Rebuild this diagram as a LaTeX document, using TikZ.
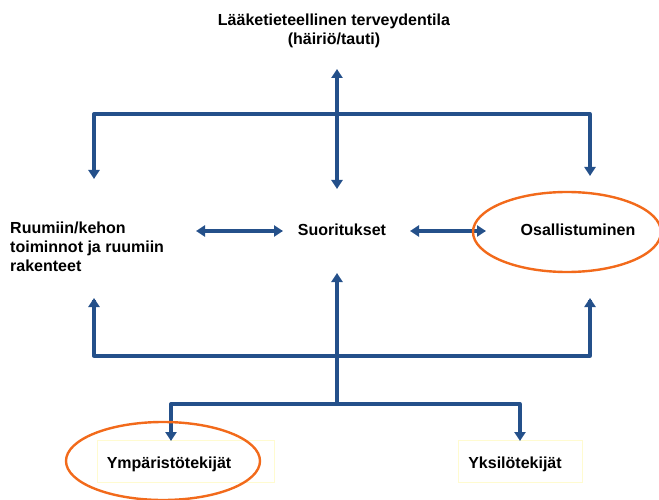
\documentclass[tikz,border=0pt]{standalone}
\usepackage{fontspec}
\setmainfont{Liberation Sans}
\usetikzlibrary{arrows.meta}
\definecolor{lineblue}{HTML}{24508A}
\definecolor{ringorange}{HTML}{F26A1B}
\definecolor{boxyellow}{HTML}{FFFBD0}
\begin{document}
\begin{tikzpicture}[x=1pt,y=-1pt,
  tip/.tip={Triangle[length=9pt,width=11pt]},
  conn/.style={draw=lineblue,line width=3.3pt,-tip},
  dconn/.style={draw=lineblue,line width=3.3pt,tip-tip},
  bar/.style={draw=lineblue,line width=3.3pt},
  lbl/.style={font=\bfseries\fontsize{16}{19}\selectfont,inner sep=0pt},
  ring/.style={draw=ringorange,line width=2.4pt},
  fbox/.style={draw=boxyellow,line width=1pt}]
\useasboundingbox (0,0) rectangle (659,500);
\node[lbl,align=center] (med) at (334,31) {Lääketieteellinen terveydentila\\(häiriö/tauti)};
\node[lbl,align=left,anchor=west] (body) at (10,247) {Ruumiin/kehon\\toiminnot ja ruumiin\\rakenteet};
\node[lbl] (act) at (342,230) {Suoritukset};
\node[lbl] (part) at (578,230) {Osallistuminen};
\node[fbox,minimum width=177pt,minimum height=42pt] (envbox) at (186,461) {};
\node[lbl] (env) at (169,464) {Ympäristötekijät};
\node[fbox,minimum width=124pt,minimum height=42pt] (persbox) at (520,461) {};
\node[lbl] (pers) at (515,464) {Yksilötekijät};
\coordinate (tl) at (94,114);
\coordinate (tr) at (590,114);
\coordinate (tc) at (337,114);
\coordinate (bl) at (94,356);
\coordinate (br) at (590,356);
\coordinate (bc) at (337,356);
\coordinate (fc) at (337,404);
\coordinate (fl) at (171,404);
\coordinate (fr) at (520,404);
% top
\draw[bar,line join=round] (94,170) -- (tl) -- (tr) -- (590,170);
\draw[conn] (tl) -- (94,179);
\draw[conn] (tr) -- (590,176);
\draw[conn] (tc) -- (337,69);
\draw[conn] (337,75) -- (337,189);
% middle
\draw[dconn] (196,231) -- (283,231);
\draw[dconn] (410,231) -- (486,231);
% bottom
\draw[bar,line join=round] (94,300) -- (bl) -- (br) -- (590,300);
\draw[conn] (bl) -- (94,298);
\draw[conn] (br) -- (590,298);
\draw[conn] (fc) -- (337,273);
\draw[bar,line join=round] (171,430) -- (fl) -- (fr) -- (520,430);
\draw[conn] (fl) -- (171,441);
\draw[conn] (fr) -- (520,441);
% rings
\draw[ring] (567,232) ellipse (94pt and 40pt);
\draw[ring] (163,461) ellipse (97pt and 39pt);
\end{tikzpicture}
\end{document}
